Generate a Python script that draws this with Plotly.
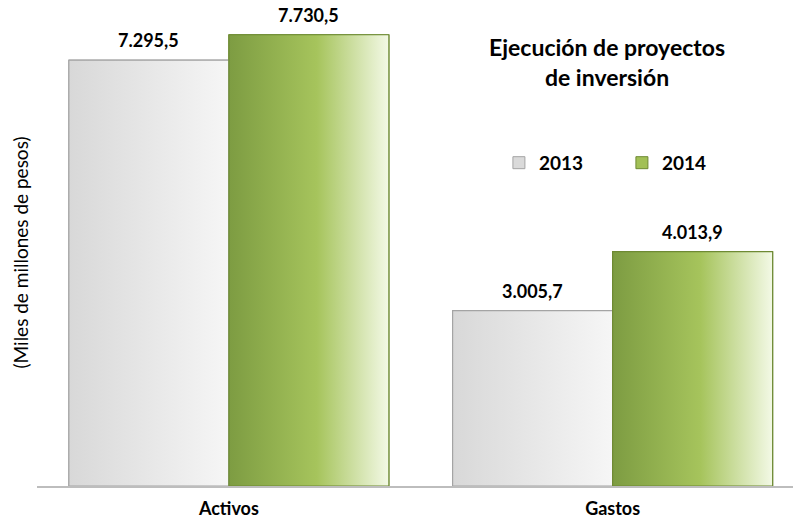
import plotly.graph_objects as go

# ---- data ----
categories = ["Activos", "Gastos"]
years = ["2013", "2014"]
values_2013 = [7295.5, 3005.7]
values_2014 = [7730.5, 4013.9]
title_text = "Ejecución de proyectos<br>de inversión"
y_title = "(Miles de millones de pesos)"

FONT = "Lato, 'DejaVu Sans', sans-serif"
x_pos = list(range(len(categories)))
BAR_W = 0.417


def fmt_es(v):
    s = f"{v:,.1f}"
    return s.replace(",", "X").replace(".", ",").replace("X", ".")


series = [
    dict(name=years[0], values=values_2013, offset=-BAR_W,
         scale=[[0, "#d8d8d8"], [1, "#f6f6f6"]], solid="#dadada", line="#a4a4a4"),
    dict(name=years[1], values=values_2014, offset=0.0,
         scale=[[0, "#7d9c42"], [0.55, "#a6c45c"], [1, "#f3f9e6"]], solid="#a2c056", line="#6e8a33"),
]

fig = go.Figure()

# bars (library-drawn, also provide the legend squares)
for s in series:
    fig.add_trace(go.Bar(
        x=x_pos, y=s["values"], width=BAR_W, offset=s["offset"], name=s["name"],
        marker=dict(color=s["solid"], line=dict(color=s["line"], width=1)),
        hoverinfo="skip",
    ))

# gradient overlays for each bar
for s in series:
    for xi, v in zip(x_pos, s["values"]):
        x0 = xi + s["offset"]
        x1 = x0 + BAR_W
        fig.add_trace(go.Scatter(
            x=[x0, x0, x1, x1, x0], y=[0, v, v, 0, 0],
            mode="lines", fill="toself",
            fillgradient=dict(type="horizontal", colorscale=s["scale"]),
            line=dict(color=s["line"], width=1.2),
            showlegend=False, hoverinfo="skip",
        ))

# value labels
for s in series:
    for xi, v in zip(x_pos, s["values"]):
        fig.add_annotation(
            x=xi + s["offset"] + BAR_W / 2, y=v, xref="x", yref="y",
            text=fmt_es(v), showarrow=False, yanchor="bottom", yshift=7,
            font=dict(family=FONT, size=18, color="black", weight="bold"),
        )

# title
fig.add_annotation(
    x=0.754, y=0.907, xref="paper", yref="paper", text=title_text,
    showarrow=False, xanchor="center", yanchor="middle",
    font=dict(family=FONT, size=23, color="black", weight="bold"),
)

fig.update_layout(
    width=793, height=523,
    margin=dict(l=37, r=0, t=19, b=37),
    paper_bgcolor="white", plot_bgcolor="white",
    barmode="overlay",
    showlegend=True,
    legend=dict(
        orientation="h", x=0.611, y=0.692, xanchor="left", yanchor="middle",
        font=dict(family=FONT, size=19, color="black", weight="bold"),
        entrywidth=78, bgcolor="rgba(0,0,0,0)",
    ),
    xaxis=dict(
        range=[-0.5, 1.47], tickvals=x_pos, ticktext=categories,
        showgrid=False, zeroline=False, showline=True, linecolor="#bdbdbd", linewidth=1.5,
        ticks="outside", ticklen=6, tickcolor="rgba(0,0,0,0)",
        tickfont=dict(family=FONT, size=18, color="black", weight="bold"),
    ),
    yaxis=dict(
        range=[0, 8000], showgrid=False, zeroline=False, showline=False,
        showticklabels=False, ticks="",
        title=dict(text=y_title, standoff=2,
                   font=dict(family=FONT, size=19, color="black")),
    ),
)

fig.write_html("out.html", config={"displayModeBar": False},
               post_script="document.body.style.margin='0';")
